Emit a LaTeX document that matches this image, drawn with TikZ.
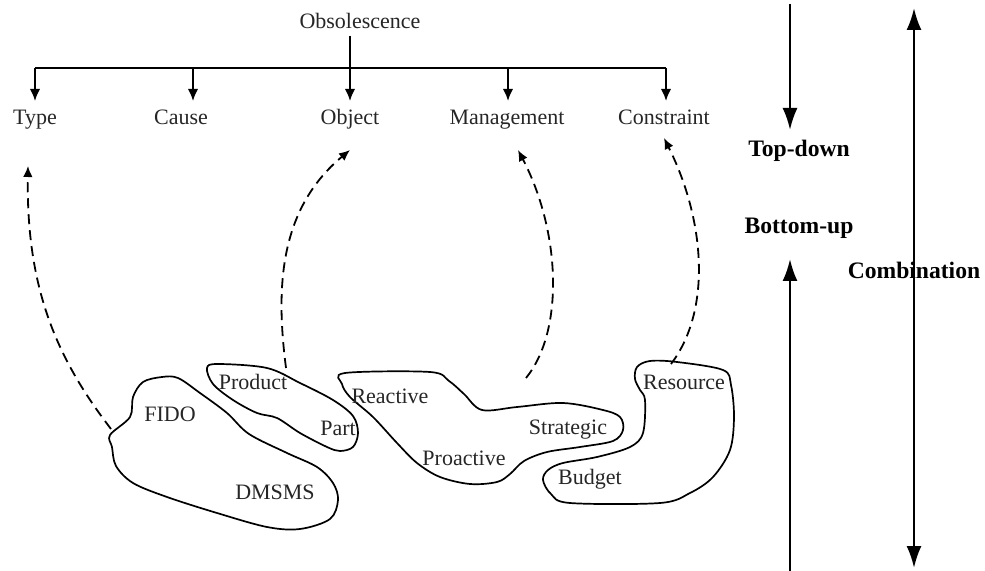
\documentclass[tikz,border=0pt]{standalone}
\usepackage{fontspec}
\setmainfont{Liberation Serif}
\usetikzlibrary{arrows.meta}
\begin{document}
\begin{tikzpicture}[x=0.5pt,y=-0.5pt,
  lbl/.style={font=\fontsize{11}{13}\selectfont, text=black!85, inner sep=0pt, anchor=base},
  bold/.style={font=\fontsize{11.8}{14}\selectfont\bfseries, inner sep=0pt, anchor=base},
  tree/.style={line width=1pt},
  treearr/.style={line width=1pt, -{Latex[length=6pt,width=5.2pt]}},
  bigarr/.style={line width=1.2pt, -{Latex[length=11pt,width=7.5pt]}},
  bigdbl/.style={line width=1.2pt, {Latex[length=11pt,width=7.5pt]}-{Latex[length=11pt,width=7.5pt]}},
  dasharr/.style={line width=0.9pt, dash pattern=on 5pt off 3pt, -{Latex[length=5.5pt,width=4.8pt]}},
  blob/.style={line width=0.85pt, smooth cycle, tension=0.55}]
\useasboundingbox (0,0) rectangle (985,571);

% --- hierarchy ---
\node[lbl] (obs) at (360,29) {Obsolescence};
\node[lbl] (type) at (35,125) {Type};
\node[lbl] (cause) at (181,125) {Cause};
\node[lbl] (object) at (350,125) {Object};
\node[lbl] (mgmt) at (507,125) {Management};
\node[lbl] (constr) at (664,125) {Constraint};

\coordinate (bar) at (0,68);
\coordinate (tips) at (0,101);
\coordinate (xT) at (35,0);
\coordinate (xC) at (193,0);
\coordinate (xO) at (350,0);
\coordinate (xM) at (508,0);
\coordinate (xK) at (666,0);

\draw[tree] (xT |- bar) -- (xK |- bar);
\draw[treearr] (xO |- obs.south) ++(0,6) -- (xO |- tips);
\draw[treearr] (xT |- bar) -- (xT |- tips);
\draw[treearr] (xC |- bar) -- (xC |- tips);
\draw[treearr] (xM |- bar) -- (xM |- tips);
\draw[treearr] (xK |- bar) -- (xK |- tips);

% --- outlines of the groups ---
\draw[blob] plot coordinates {(110,435) (130,417) (133,397) (143,382) (162,377) (178,378)
  (200,393) (227,413) (249,434) (287,453) (317,467) (333,483) (338,500) (330,519)
  (300,529) (267,527) (217,513) (167,497) (133,483) (116,466) (112,447)};
\draw[blob] plot coordinates {(207,368) (218,364) (267,368) (300,383) (333,400) (353,416)
  (358,433) (353,447) (340,451) (327,447) (300,433) (277,418) (257,413) (233,400)
  (213,384)};
\draw[blob] plot coordinates {(345,373) (430,372) (449,381) (464,394) (482,410) (517,407)
  (563,403) (603,410) (620,417) (623,430) (613,441) (580,447) (547,452) (524,461)
  (510,474) (497,482) (470,484) (440,477) (417,463) (397,443) (373,417) (350,397)
  (342,384)};
\draw[blob] plot coordinates {(637,367) (650,361) (677,362) (723,370) (731,385) (734,417)
  (730,450) (713,477) (690,493) (660,503) (570,503) (551,494) (543,480) (548,470)
  (563,463) (597,457) (630,447) (643,433) (645,400) (640,390) (635,379)};

\node[lbl] (fido) at (170,422) {FIDO};
\node[lbl] (dmsms) at (275,499) {DMSMS};
\node[lbl] (product) at (253,390) {Product};
\node[lbl] (part) at (338,436) {Part};
\node[lbl] (reactive) at (390,404) {Reactive};
\node[lbl] (strategic) at (568,435) {Strategic};
\node[lbl] (proactive) at (464,466) {Proactive};
\node[lbl] (budget) at (590,485) {Budget};
\node[lbl] (resource) at (684,390) {Resource};

% --- bottom-up links ---
\coordinate (s1) at (111,429);
\coordinate (e1) at (28,166);
\coordinate (s2) at (286,368);
\coordinate (e2) at (350,150);
\coordinate (s3) at (526,378);
\coordinate (e3) at (518,150);
\coordinate (s4) at (671,364);
\coordinate (e4) at (664,138);
\draw[dasharr] (s1) .. controls (58,360) and (26,290) .. (e1);
\draw[dasharr] (s2) .. controls (276,290) and (278,210) .. (e2);
\draw[dasharr] (s3) .. controls (565,330) and (560,230) .. (e3);
\draw[dasharr] (s4) .. controls (712,310) and (705,220) .. (e4);

% --- approaches ---
\node[bold] (topdown) at (799,157) {Top-down};
\node[bold] (bottomup) at (799,234) {Bottom-up};
\node[bold] (combo) at (914,279) {Combination};
\coordinate (tdTop) at (790,4);
\coordinate (tdTip) at (790,130);
\coordinate (buBot) at (790,571);
\coordinate (buTip) at (790,259);
\coordinate (cTop) at (914,8);
\coordinate (cBot) at (914,568);
\draw[bigarr] (tdTop) -- (tdTip);
\draw[bigarr] (buBot) -- (buTip);
\draw[bigdbl] (cBot) -- (cTop);
\end{tikzpicture}
\end{document}
